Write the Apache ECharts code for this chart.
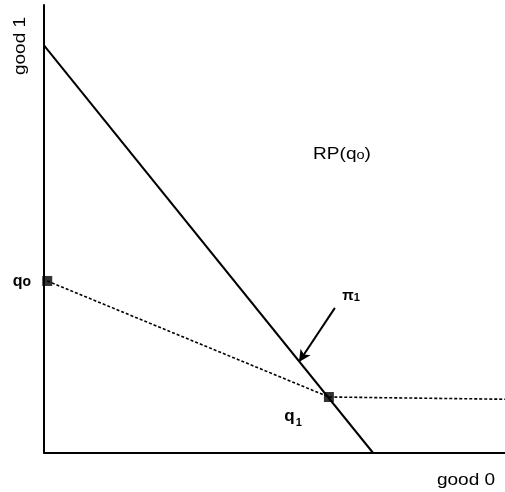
<!DOCTYPE html>
<html><head><meta charset="utf-8">
<script src="https://cdn.jsdelivr.net/npm/echarts@6/dist/echarts.min.js"></script>
<style>html,body{margin:0;padding:0;background:#fff}#c{width:505px;height:492px}</style>
</head><body><div id="c"></div>
<script>
// budget line pi1 (good 0, good 1)
const budgetLine = [[0, 9.1], [7.14, 0]];
// boundary of RP(q0): dotted
const rpBoundary = [[0.07, 3.84], [6.18, 1.25], [10, 1.2]];
// bundles
const bundles = [[0.07, 3.84], [6.18, 1.25]];
const arrowFrom = [6.31, 3.24];
const arrowTo = [5.53, 2.03];

const chart = echarts.init(document.getElementById('c'));
const F = 'Liberation Sans, Arial, sans-serif';
function txt(x, y, text, font, rich, extra) {
  return Object.assign({type: 'text', x: x, y: y, style: {text: text, font: font, fill: '#000', align: 'center', verticalAlign: 'middle', rich: rich || {}}}, extra || {});
}
chart.setOption({
  animation: false,
  grid: {left: 44, top: 5, right: 0, bottom: 39},
  xAxis: {type: 'value', min: 0, max: 10, axisLine: {lineStyle: {color: '#000', width: 2}},
    axisTick: {show: false}, axisLabel: {show: false}, splitLine: {show: false}},
  yAxis: {type: 'value', min: 0, max: 10, axisLine: {show: true, lineStyle: {color: '#000', width: 2}},
    axisTick: {show: false}, axisLabel: {show: false}, splitLine: {show: false}},
  series: [
    {type: 'line', data: budgetLine, symbol: 'none', lineStyle: {color: '#000', width: 2},
      markLine: {silent: true, symbol: ['none', 'arrow'], symbolSize: [9, 12], label: {show: false},
        lineStyle: {color: '#000', width: 2, type: 'solid'},
        data: [[{coord: arrowFrom}, {coord: arrowTo}]]}},
    {type: 'line', data: rpBoundary, symbol: 'none', lineStyle: {color: '#000', width: 1.6, type: [3, 2]}},
    {type: 'scatter', data: bundles, symbol: 'rect', symbolSize: 10, itemStyle: {color: '#000'}, z: 5}
  ],
  graphic: [
    txt(20, 46, 'good 1', '17px ' + F, null, {rotation: Math.PI / 2, scaleX: 1.12}),
    txt(466, 480, 'good 0', '17px ' + F, null, {scaleX: 1.12}),
    txt(22, 282, '{a|q}{b|o}', 'bold 16px ' + F, {a: {font: 'bold 16px ' + F}, b: {font: 'bold 14px ' + F}}),
    txt(293, 418, '{a|q}{b|1}', 'bold 16px ' + F, {a: {font: 'bold 17px ' + F, verticalAlign: 'top'}, b: {font: 'bold 11px ' + F, padding: [9, 0, 0, 1]}}),
    txt(351, 296, '{a|π}{b|1}', 'bold 15px ' + F, {a: {font: 'bold 15px ' + F}, b: {font: 'bold 11px ' + F, padding: [3, 0, 0, 0]}}),
    txt(342, 154, '{a|RP(q}{b|o}{a|)}', '17px ' + F, {a: {font: '17px ' + F}, b: {font: '13px ' + F, padding: [3, 0, 0, 0]}}, {scaleX: 1.12})
  ]
});
</script></body></html>
